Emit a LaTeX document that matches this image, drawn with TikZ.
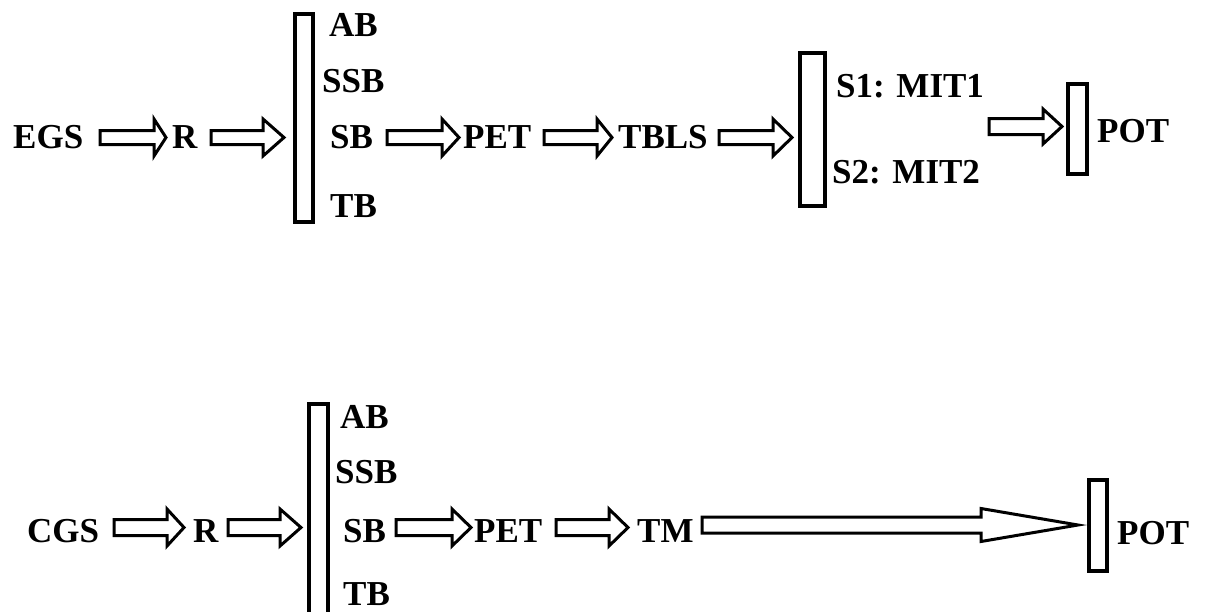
\documentclass[tikz,border=0pt]{standalone}
\usepackage{fontspec}
\setmainfont{Liberation Serif}
\tikzset{
  lbl/.style={anchor=base west, inner sep=0pt, font=\fontsize{35}{40}\selectfont\bfseries},
  bar/.style={draw=black, line width=3.2pt, fill=white},
  barrow/.style={draw=black, line width=3pt, fill=white, line join=miter},
}
% block arrow: #1 x start, #2 head start, #3 tip, #4 y centre, #5 shaft half, #6 head half
\newcommand{\blockarr}[6]{%
  \draw[barrow] (#1,#4-#5) -- (#2,#4-#5) -- (#2,#4-#6) -- (#3,#4) -- (#2,#4+#6) -- (#2,#4+#5) -- (#1,#4+#5) -- cycle;}
\begin{document}
\begin{tikzpicture}[x=1pt,y=-1pt]
\useasboundingbox[fill=white] (0,0) rectangle (1208,611);
% ---------- top row ----------
\node[lbl] (egs) at (13,148) {EGS};
\blockarr{100}{154}{166}{137.5}{7}{18.5}
\node[lbl] (r1) at (172,148) {R};
\blockarr{211}{263}{284}{137.5}{7}{18.5}
\draw[bar] (295,14) rectangle (313,222);
\node[lbl] (ab1) at (329,36) {AB};
\node[lbl] (ssb1) at (322,92) {SSB};
\node[lbl] (sb1) at (330,148) {SB};
\node[lbl] (tb1) at (330,217) {TB};
\blockarr{387}{442}{459}{137.5}{7}{18.5}
\node[lbl] (pet1) at (463,148) {PET};
\blockarr{544}{597}{612}{137.5}{7}{18.5}
\node[lbl] (tbls) at (618,148) {TBLS};
\blockarr{719}{773}{792}{137.5}{7}{18.5}
\draw[bar] (800,53) rectangle (825,206);
\node[lbl] (s1) at (836,97) {S1: MIT1};
\node[lbl] (s2) at (832,183) {S2: MIT2};
\blockarr{989}{1043}{1062}{126.5}{8}{17.5}
\draw[bar] (1068,84) rectangle (1087,174);
\node[lbl] (pot1) at (1097,142) {POT};
% ---------- bottom row ----------
\node[lbl] (cgs) at (27,542) {CGS};
\blockarr{114}{167}{184}{527.5}{8}{18.5}
\node[lbl] (r2) at (193,542) {R};
\blockarr{228}{280}{301}{527.5}{8}{18.5}
\draw[bar] (309,404) rectangle (328,625);
\node[lbl] (ab2) at (340,428) {AB};
\node[lbl] (ssb2) at (335,483) {SSB};
\node[lbl] (sb2) at (343,542) {SB};
\node[lbl] (tb2) at (343,605) {TB};
\blockarr{396}{452}{471}{527.5}{8}{18.5}
\node[lbl] (pet2) at (474,542) {PET};
\blockarr{556}{609}{628}{527.5}{8}{18.5}
\node[lbl] (tm) at (637,542) {TM};
\blockarr{702}{981}{1078}{525}{8}{16.5}
\draw[bar] (1089,480) rectangle (1107,571);
\node[lbl] (pot2) at (1117,544) {POT};
\end{tikzpicture}
\end{document}
